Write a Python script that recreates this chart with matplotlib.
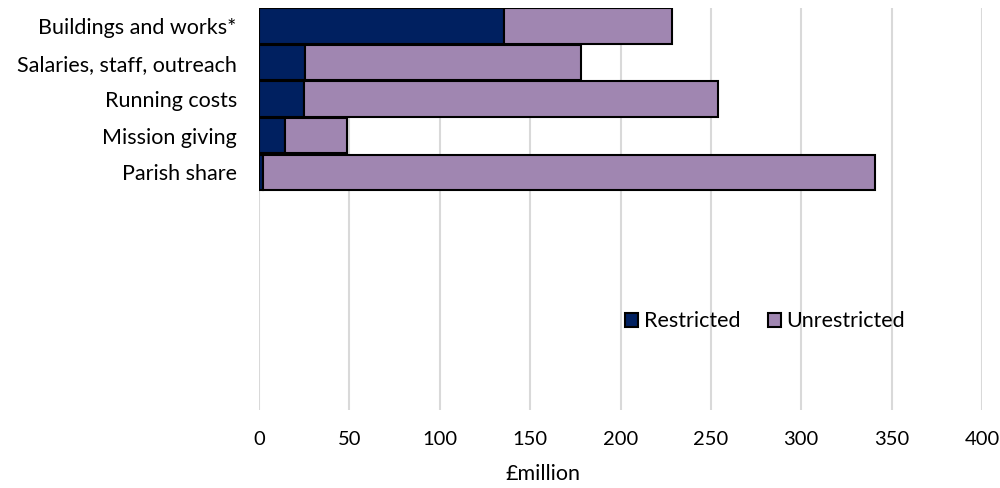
import matplotlib
matplotlib.use("Agg")
import matplotlib.pyplot as plt

categories = ["Buildings and works*", "Salaries, staff, outreach",
              "Running costs", "Mission giving", "Parish share"]
restricted = [135.5, 25.4, 25.0, 14.5, 2.4]
unrestricted = [93.0, 153.0, 229.0, 34.0, 338.5]
xticks = [0, 50, 100, 150, 200, 250, 300, 350, 400]

NAVY = "#002060"
LILAC = "#A086B1"

plt.rcParams["font.family"] = ["Lato", "DejaVu Sans"]

fig = plt.figure(figsize=(10, 4.88), dpi=100)
ax = fig.add_axes([0.259, 0.16, 0.723, 0.824])

y = list(range(len(categories)))
ax.barh(y, restricted, height=0.97, color=NAVY, edgecolor="black",
        linewidth=1.5, label="Restricted", zorder=3)
ax.barh(y, unrestricted, left=restricted, height=0.97, color=LILAC,
        edgecolor="black", linewidth=1.5, label="Unrestricted", zorder=3)

# room for eleven rows, only the top five are used
ax.set_ylim(10.5, -0.5)
ax.set_yticks(y)
ax.set_yticklabels(categories, fontsize=15.5)
ax.set_xlim(0, 400)
ax.set_xticks(xticks)
ax.tick_params(axis="x", labelsize=14.5, length=0, pad=15)
ax.tick_params(axis="y", length=0, pad=16)
ax.grid(axis="x", color="#d9d9d9", lw=1.5, zorder=0)
for s in ax.spines.values():
    s.set_visible(False)
ax.set_xlabel("£million", fontsize=15.5, labelpad=12, x=0.393)

ax.legend(loc="center", bbox_to_anchor=(0.70, 0.22), ncol=2, frameon=False,
          fontsize=15.5, handlelength=0.6, handleheight=0.6,
          handletextpad=0.25, columnspacing=1.3)

fig.savefig("out.png", dpi=100)
